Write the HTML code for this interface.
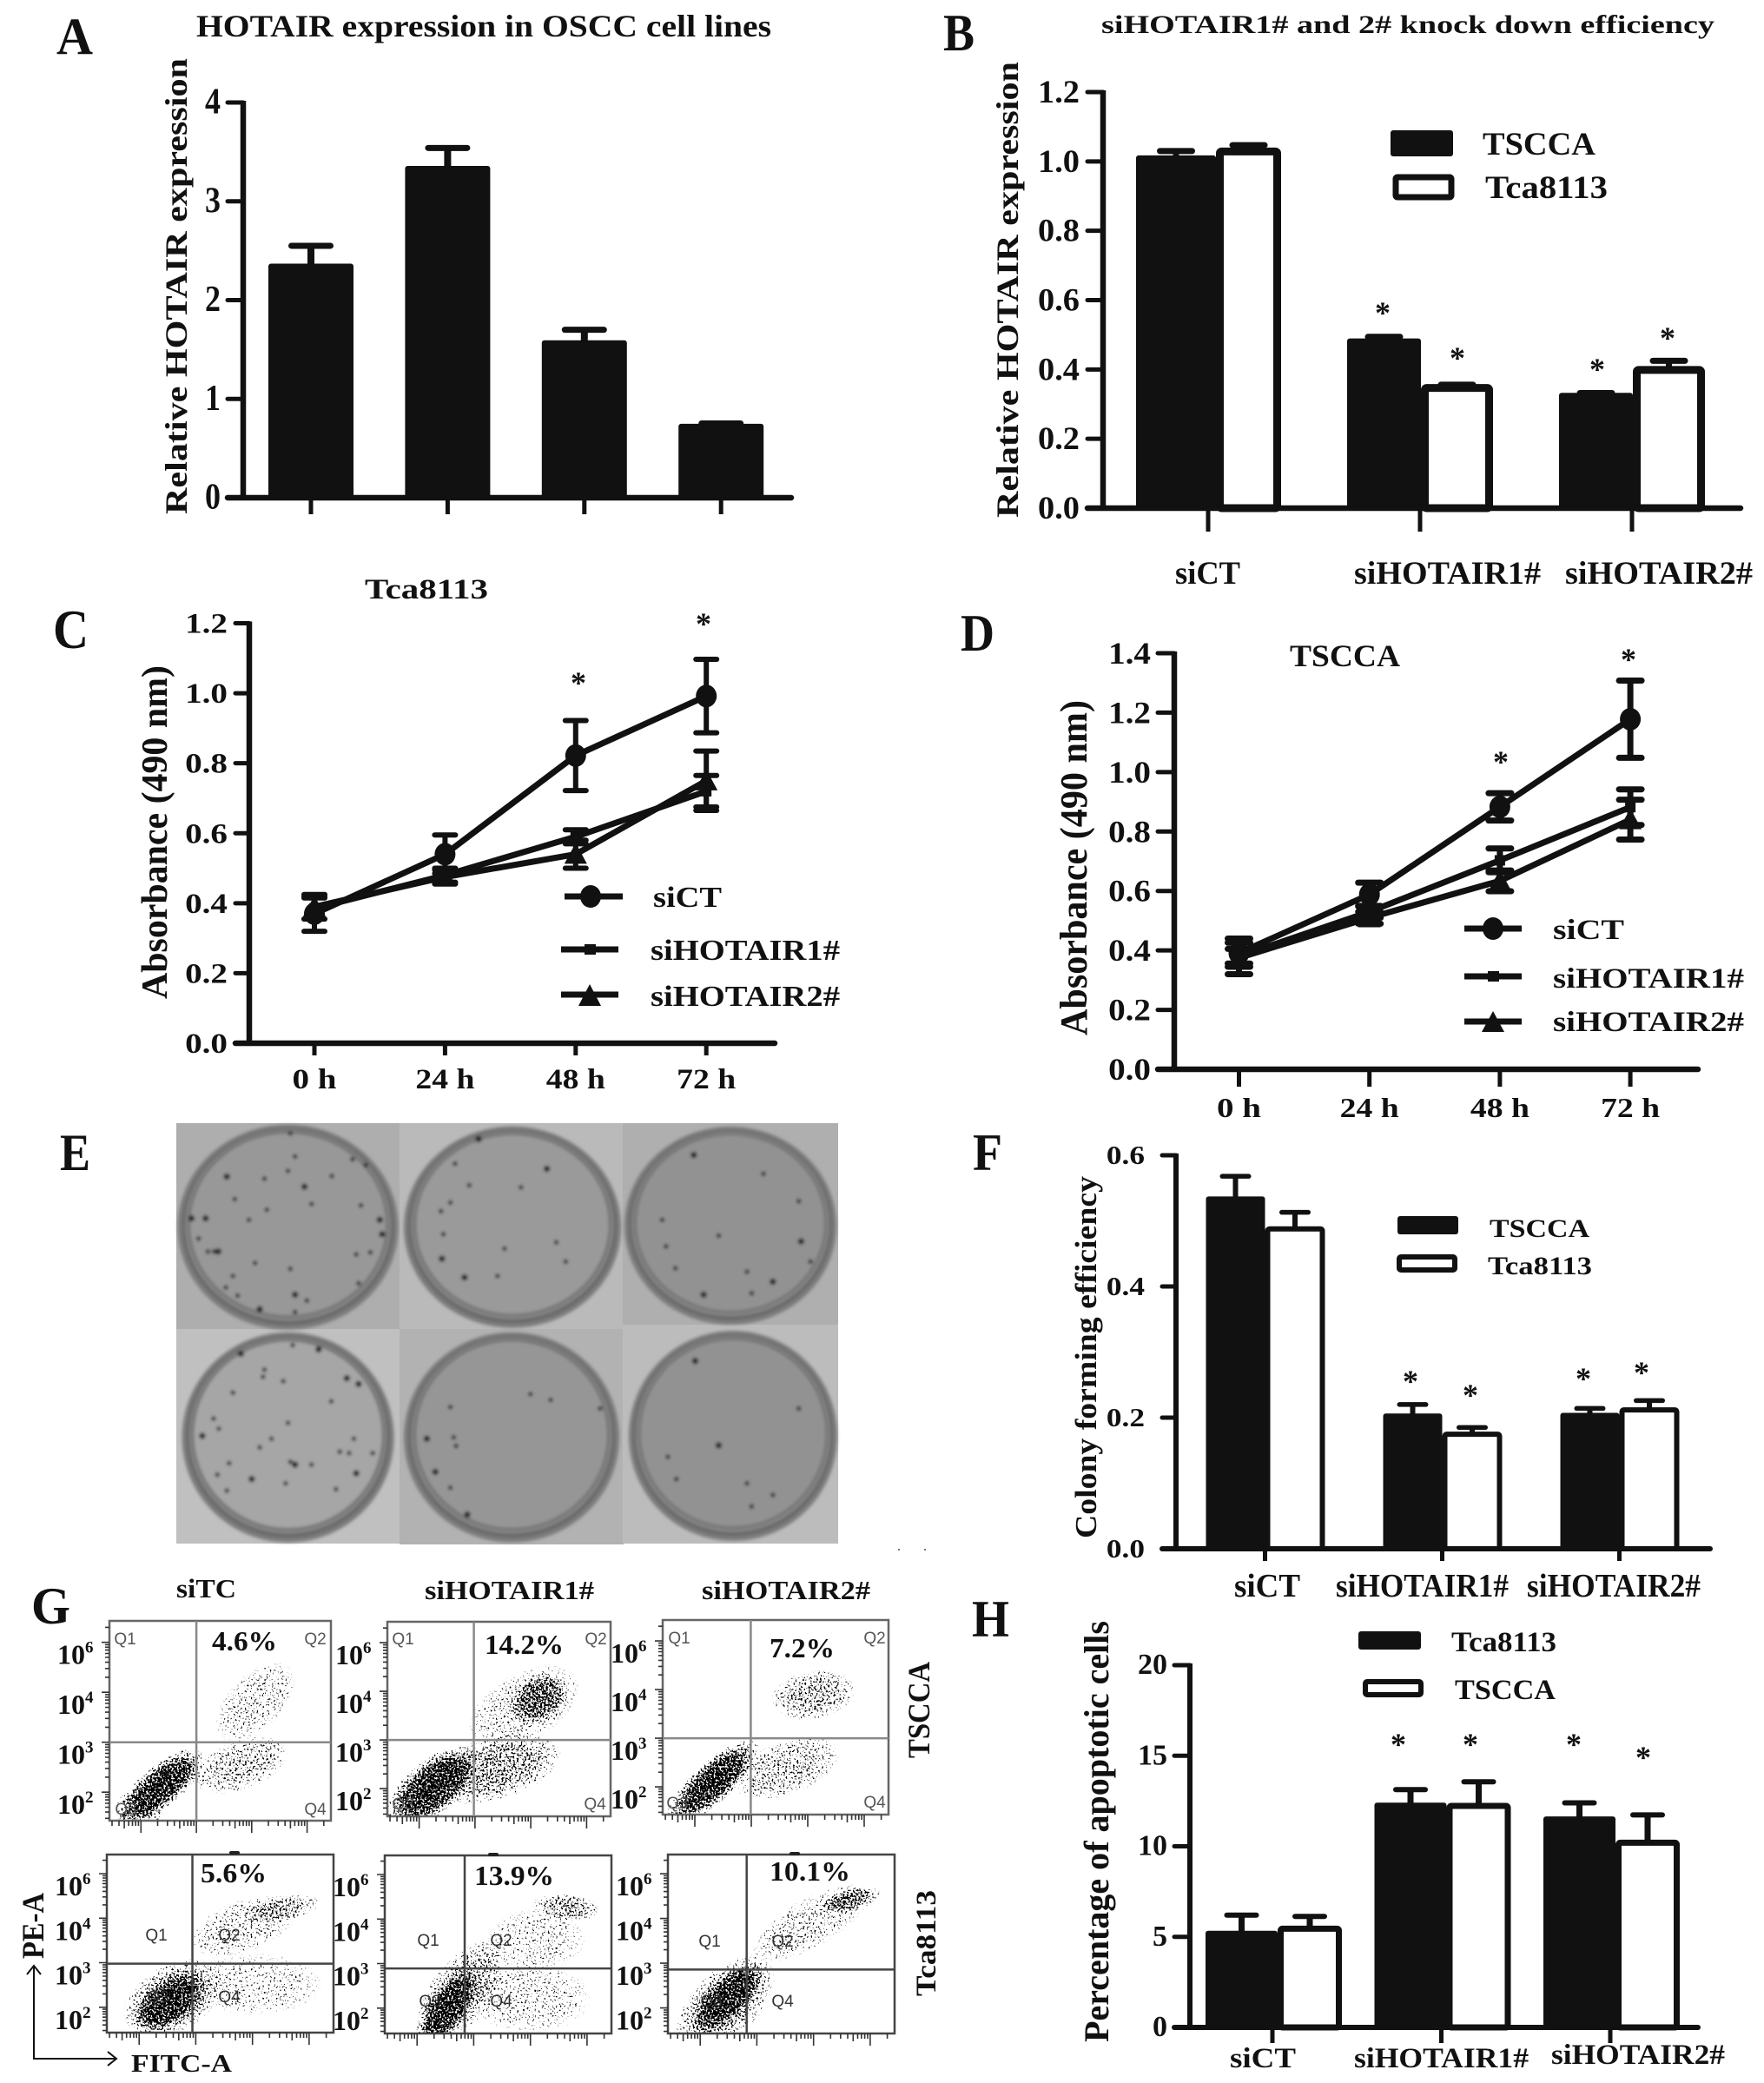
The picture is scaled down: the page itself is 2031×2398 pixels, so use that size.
<!DOCTYPE html>
<html lang="en">
<head>
<meta charset="utf-8">
<title>HOTAIR knockdown figure</title>
<style>
  html, body { margin: 0; padding: 0; background: #fff; }
  svg { display: block; }
  text { font-family: "Liberation Serif", serif; font-weight: bold; fill: #111; }
  .q { font-family: "Liberation Sans", sans-serif; font-weight: normal; font-size: 19px; fill: #555; text-anchor: middle; }
  .qd { fill: #333; }
  .st { font-size: 36px; text-anchor: middle; }
</style>
</head>
<body>
<svg id="figure" width="2031" height="2398" viewBox="0 0 2031 2398">
  <defs>
    <radialGradient id="blobGrad">
      <stop offset="0" stop-color="#000" stop-opacity="1"/>
      <stop offset="0.6" stop-color="#000" stop-opacity="0.85"/>
      <stop offset="1" stop-color="#000" stop-opacity="0"/>
    </radialGradient>
    <filter id="stipple" filterUnits="userSpaceOnUse" x="100" y="1850" width="950" height="500" color-interpolation-filters="sRGB">
      <feTurbulence type="fractalNoise" baseFrequency="0.45" numOctaves="2" seed="3" result="n"/>
      <feColorMatrix in="n" type="matrix" values="0 0 0 0 0  0 0 0 0 0  0 0 0 0 0  3 0 0 0 -1.12" result="na"/>
      <feComposite in="SourceAlpha" in2="na" operator="arithmetic" k1="0" k2="1" k3="1" k4="-1" result="c"/>
      <feComponentTransfer in="c"><feFuncA type="linear" slope="12" intercept="0"/></feComponentTransfer>
    </filter>
    <filter id="soft" x="-5%" y="-5%" width="110%" height="110%"><feGaussianBlur stdDeviation="1.8"/></filter>
  </defs>

  <!-- Panel letters -->
  <text x="65" y="62" font-size="60" textLength="42" lengthAdjust="spacingAndGlyphs">A</text>
  <text x="1086" y="58" font-size="60" textLength="36" lengthAdjust="spacingAndGlyphs">B</text>
  <text x="61" y="746" font-size="64" textLength="41" lengthAdjust="spacingAndGlyphs">C</text>
  <text x="1106" y="749" font-size="60" textLength="39" lengthAdjust="spacingAndGlyphs">D</text>
  <text x="69" y="1347" font-size="60" textLength="35" lengthAdjust="spacingAndGlyphs">E</text>
  <text x="1120" y="1347" font-size="60" textLength="34" lengthAdjust="spacingAndGlyphs">F</text>
  <text x="36" y="1869" font-size="60" textLength="45" lengthAdjust="spacingAndGlyphs">G</text>
  <text x="1119" y="1884" font-size="60" textLength="43" lengthAdjust="spacingAndGlyphs">H</text>

  <!-- Panel A static text -->
  <text x="226" y="42" font-size="36" textLength="662" lengthAdjust="spacingAndGlyphs">HOTAIR expression in OSCC cell lines</text>
  <text transform="translate(215,592) rotate(-90)" font-size="36" textLength="525" lengthAdjust="spacingAndGlyphs">Relative HOTAIR expression</text>

  <!-- Panel B static text -->
  <text x="1268" y="38" font-size="30" textLength="706" lengthAdjust="spacingAndGlyphs">siHOTAIR1# and 2# knock down efficiency</text>
  <text transform="translate(1172,596) rotate(-90)" font-size="36" textLength="525" lengthAdjust="spacingAndGlyphs">Relative HOTAIR expression</text>
  <text x="1353" y="672" font-size="37" textLength="75" lengthAdjust="spacingAndGlyphs">siCT</text>
  <text x="1559" y="672" font-size="37" textLength="215" lengthAdjust="spacingAndGlyphs">siHOTAIR1#</text>
  <text x="1802" y="672" font-size="37" textLength="216" lengthAdjust="spacingAndGlyphs">siHOTAIR2#</text>
  <g>
    <rect x="1601" y="150" width="72" height="30" rx="3" fill="#111"/>
    <rect x="1607" y="204" width="64" height="23" rx="2" fill="#fff" stroke="#111" stroke-width="7"/>
    <text x="1707" y="178" font-size="37" textLength="130" lengthAdjust="spacingAndGlyphs">TSCCA</text>
    <text x="1710" y="228" font-size="37" textLength="141" lengthAdjust="spacingAndGlyphs">Tca8113</text>
  </g>
  <g>
    <text class="st" x="1592" y="372">*</text>
    <text class="st" x="1678" y="424">*</text>
    <text class="st" x="1839" y="437">*</text>
    <text class="st" x="1920" y="401">*</text>
  </g>

  <!-- Panel C static text -->
  <text x="420" y="689" font-size="33" textLength="142" lengthAdjust="spacingAndGlyphs">Tca8113</text>
  <text transform="translate(192,1150) rotate(-90)" font-size="42" textLength="384" lengthAdjust="spacingAndGlyphs">Absorbance (490 nm)</text>
  <g>
    <line x1="650" y1="1032" x2="717" y2="1032" stroke="#111" stroke-width="7"/>
    <ellipse cx="680" cy="1032" rx="12" ry="13" fill="#111"/>
    <text x="752" y="1044" font-size="34" textLength="79" lengthAdjust="spacingAndGlyphs">siCT</text>
    <line x1="646" y1="1093" x2="712" y2="1093" stroke="#111" stroke-width="7"/>
    <rect x="673" y="1087" width="13" height="12" fill="#111"/>
    <text x="749" y="1105" font-size="34" textLength="218" lengthAdjust="spacingAndGlyphs">siHOTAIR1#</text>
    <line x1="646" y1="1145" x2="712" y2="1145" stroke="#111" stroke-width="7"/>
    <polygon points="679,1133 692,1158 666,1158" fill="#111"/>
    <text x="749" y="1158" font-size="34" textLength="218" lengthAdjust="spacingAndGlyphs">siHOTAIR2#</text>
  </g>
  <g>
    <text class="st" x="666" y="798">*</text>
    <text class="st" x="810" y="730">*</text>
  </g>

  <!-- Panel D static text -->
  <text x="1485" y="767" font-size="36" textLength="127" lengthAdjust="spacingAndGlyphs">TSCCA</text>
  <text transform="translate(1251,1192) rotate(-90)" font-size="44" textLength="386" lengthAdjust="spacingAndGlyphs">Absorbance (490 nm)</text>
  <g>
    <line x1="1686" y1="1069" x2="1752" y2="1069" stroke="#111" stroke-width="7"/>
    <ellipse cx="1719" cy="1069" rx="12" ry="13" fill="#111"/>
    <text x="1788" y="1081" font-size="33" textLength="82" lengthAdjust="spacingAndGlyphs">siCT</text>
    <line x1="1686" y1="1124" x2="1752" y2="1124" stroke="#111" stroke-width="7"/>
    <rect x="1713" y="1118" width="13" height="12" fill="#111"/>
    <text x="1788" y="1137" font-size="33" textLength="220" lengthAdjust="spacingAndGlyphs">siHOTAIR1#</text>
    <line x1="1686" y1="1176" x2="1752" y2="1176" stroke="#111" stroke-width="7"/>
    <polygon points="1719,1164 1732,1188 1706,1188" fill="#111"/>
    <text x="1788" y="1187" font-size="33" textLength="220" lengthAdjust="spacingAndGlyphs">siHOTAIR2#</text>
  </g>
  <g>
    <text class="st" x="1728" y="889">*</text>
    <text class="st" x="1875" y="771">*</text>
  </g>

  <!-- Panel E photo tiles -->
  <g id="panelE"></g>

  <!-- Panel F static text -->
  <text transform="translate(1262,1771) rotate(-90)" font-size="35" textLength="417" lengthAdjust="spacingAndGlyphs">Colony forming efficiency</text>
  <text x="1421" y="1838" font-size="38" textLength="76" lengthAdjust="spacingAndGlyphs">siCT</text>
  <text x="1538" y="1838" font-size="38" textLength="199" lengthAdjust="spacingAndGlyphs">siHOTAIR1#</text>
  <text x="1758" y="1838" font-size="38" textLength="200" lengthAdjust="spacingAndGlyphs">siHOTAIR2#</text>
  <g>
    <rect x="1609" y="1400" width="70" height="21" rx="3" fill="#111"/>
    <rect x="1611" y="1447" width="64" height="15" rx="2" fill="#fff" stroke="#111" stroke-width="6"/>
    <text x="1715" y="1424" font-size="30" textLength="115" lengthAdjust="spacingAndGlyphs">TSCCA</text>
    <text x="1713" y="1467" font-size="30" textLength="120" lengthAdjust="spacingAndGlyphs">Tca8113</text>
  </g>
  <g>
    <text class="st" x="1624" y="1602">*</text>
    <text class="st" x="1693" y="1618">*</text>
    <text class="st" x="1823" y="1599">*</text>
    <text class="st" x="1890" y="1592">*</text>
  </g>
  <rect x="1034" y="1783" width="2" height="2" fill="#777"/>
  <rect x="1064" y="1783" width="2" height="2" fill="#777"/>

  <!-- Panel G static text -->
  <text x="203" y="1839" font-size="31" textLength="69" lengthAdjust="spacingAndGlyphs">siTC</text>
  <text x="489" y="1841" font-size="31" textLength="195" lengthAdjust="spacingAndGlyphs">siHOTAIR1#</text>
  <text x="808" y="1841" font-size="31" textLength="194" lengthAdjust="spacingAndGlyphs">siHOTAIR2#</text>
  <text transform="translate(1070,2024) rotate(-90)" font-size="36" textLength="111" lengthAdjust="spacingAndGlyphs">TSCCA</text>
  <text transform="translate(1077,2298) rotate(-90)" font-size="33" textLength="122" lengthAdjust="spacingAndGlyphs">Tca8113</text>
  <text transform="translate(50,2255) rotate(-90)" font-size="36" textLength="76" lengthAdjust="spacingAndGlyphs">PE-A</text>
  <text x="151" y="2385" font-size="28" textLength="116" lengthAdjust="spacingAndGlyphs">FITC-A</text>
  <g fill="none" stroke="#111" stroke-width="2">
    <path d="M39 2264V2370H133"/>
    <path d="M31 2273L39 2263L47 2273"/>
    <path d="M124 2362L134 2370L124 2378"/>
  </g>
  <g id="flowDensity" filter="url(#stipple)"></g>
  <g id="flowFrames"></g>
  <rect x="264" y="2131" width="12" height="4" rx="2" fill="#222"/>
  <rect x="562" y="2133" width="12" height="4" rx="2" fill="#222"/>
  <rect x="909" y="2132" width="12" height="4" rx="2" fill="#222"/>
  <g>
    <text x="244" y="1900" font-size="32" textLength="75" lengthAdjust="spacingAndGlyphs">4.6%</text>
    <text x="558" y="1904" font-size="32" textLength="91" lengthAdjust="spacingAndGlyphs">14.2%</text>
    <text x="886" y="1908" font-size="32" textLength="75" lengthAdjust="spacingAndGlyphs">7.2%</text>
    <text x="231" y="2167" font-size="32" textLength="76" lengthAdjust="spacingAndGlyphs">5.6%</text>
    <text x="546" y="2170" font-size="32" textLength="92" lengthAdjust="spacingAndGlyphs">13.9%</text>
    <text x="886" y="2165" font-size="32" textLength="93" lengthAdjust="spacingAndGlyphs">10.1%</text>
  </g>
  <g>
    <text class="q" x="144" y="1893">Q1</text>
    <text class="q" x="363" y="1893">Q2</text>
    <text class="q" x="145" y="2089">Q3</text>
    <text class="q" x="363" y="2089">Q4</text>
    <text class="q" x="464" y="1893">Q1</text>
    <text class="q" x="686" y="1893">Q2</text>
    <text class="q" x="464" y="2083">Q3</text>
    <text class="q" x="685" y="2083">Q4</text>
    <text class="q" x="782" y="1892">Q1</text>
    <text class="q" x="1007" y="1892">Q2</text>
    <text class="q" x="780" y="2082">Q3</text>
    <text class="q" x="1007" y="2081">Q4</text>
    <text class="q qd" x="180" y="2234">Q1</text>
    <text class="q qd" x="264" y="2234">Q2</text>
    <text class="q qd" x="182" y="2305">Q3</text>
    <text class="q qd" x="264" y="2305">Q4</text>
    <text class="q qd" x="493" y="2240">Q1</text>
    <text class="q qd" x="577" y="2240">Q2</text>
    <text class="q qd" x="495" y="2310">Q3</text>
    <text class="q qd" x="577" y="2310">Q4</text>
    <text class="q qd" x="817" y="2241">Q1</text>
    <text class="q qd" x="901" y="2241">Q2</text>
    <text class="q qd" x="819" y="2310">Q3</text>
    <text class="q qd" x="901" y="2310">Q4</text>
  </g>

  <!-- Panel H static text -->
  <text transform="translate(1276,2351) rotate(-90)" font-size="40" textLength="485" lengthAdjust="spacingAndGlyphs">Percentage of apoptotic cells</text>
  <text x="1416" y="2380" font-size="33" textLength="76" lengthAdjust="spacingAndGlyphs">siCT</text>
  <text x="1559" y="2380" font-size="33" textLength="201" lengthAdjust="spacingAndGlyphs">siHOTAIR1#</text>
  <text x="1786" y="2376" font-size="33" textLength="200" lengthAdjust="spacingAndGlyphs">siHOTAIR2#</text>
  <g>
    <rect x="1564" y="1878" width="72" height="21" rx="3" fill="#111"/>
    <rect x="1572" y="1936" width="64" height="15" rx="2" fill="#fff" stroke="#111" stroke-width="6"/>
    <text x="1671" y="1901" font-size="33" textLength="121" lengthAdjust="spacingAndGlyphs">Tca8113</text>
    <text x="1675" y="1956" font-size="33" textLength="116" lengthAdjust="spacingAndGlyphs">TSCCA</text>
  </g>
  <g>
    <text class="st" x="1610" y="2020">*</text>
    <text class="st" x="1693" y="2020">*</text>
    <text class="st" x="1812" y="2020">*</text>
    <text class="st" x="1892" y="2035">*</text>
  </g>

  <g id="charts"></g>
</svg>

<script>
/* ---------- Panel A ---------- */
const aCategories = ['line 1', 'line 2', 'line 3', 'line 4'];
const aValues = [2.36, 3.35, 1.585, 0.74];
const aErrors = [0.19, 0.19, 0.115, 0.012];
const aTicks = [0, 1, 2, 3, 4];
const aTickLabels = ['0', '1', '2', '3', '4'];

/* ---------- Panel B ---------- */
const bCategories = ['siCT', 'siHOTAIR1#', 'siHOTAIR2#'];
const bTscca = [1.015, 0.487, 0.33];
const bTsccaErr = [0.015, 0.007, 0.002];
const bTca = [1.035, 0.353, 0.405];
const bTcaErr = [0.012, 0.003, 0.02];
const bTicks = [0, 0.2, 0.4, 0.6, 0.8, 1.0, 1.2];
const bTickLabels = ['0.0', '0.2', '0.4', '0.6', '0.8', '1.0', '1.2'];

/* ---------- Panel C ---------- */
const cTimes = ['0 h', '24 h', '48 h', '72 h'];
const cSiCT = [0.37, 0.54, 0.822, 0.992];
const cSiCTErr = [0.05, 0.055, 0.1, 0.105];
const cHot1 = [0.385, 0.48, 0.59, 0.72];
const cHot1Err = [0.03, 0.02, 0.02, 0.045];
const cHot2 = [0.39, 0.475, 0.54, 0.75];
const cHot2Err = [0.035, 0.02, 0.04, 0.085];
const cTicks = [0, 0.2, 0.4, 0.6, 0.8, 1.0, 1.2];
const cTickLabels = ['0.0', '0.2', '0.4', '0.6', '0.8', '1.0', '1.2'];

/* ---------- Panel D ---------- */
const dTimes = ['0 h', '24 h', '48 h', '72 h'];
const dSiCT = [0.391, 0.588, 0.883, 1.178];
const dSiCTErr = [0.035, 0.04, 0.046, 0.13];
const dHot1 = [0.38, 0.53, 0.703, 0.882];
const dHot1Err = [0.06, 0.02, 0.04, 0.06];
const dHot2 = [0.375, 0.51, 0.634, 0.84];
const dHot2Err = [0.03, 0.02, 0.035, 0.067];
const dTicks = [0, 0.2, 0.4, 0.6, 0.8, 1.0, 1.2, 1.4];
const dTickLabels = ['0.0', '0.2', '0.4', '0.6', '0.8', '1.0', '1.2', '1.4'];

/* ---------- Panel F ---------- */
const fCategories = ['siCT', 'siHOTAIR1#', 'siHOTAIR2#'];
const fTscca = [0.536, 0.205, 0.206];
const fTsccaErr = [0.032, 0.015, 0.008];
const fTca = [0.489, 0.176, 0.213];
const fTcaErr = [0.024, 0.009, 0.013];
const fTicks = [0, 0.2, 0.4, 0.6];
const fTickLabels = ['0.0', '0.2', '0.4', '0.6'];

/* ---------- Panel H ---------- */
const hCategories = ['siCT', 'siHOTAIR1#', 'siHOTAIR2#'];
const hTca = [5.29, 12.36, 11.6];
const hTcaErr = [0.91, 0.77, 0.8];
const hTscca = [5.52, 12.3, 10.27];
const hTsccaErr = [0.61, 1.26, 1.46];
const hTicks = [0, 5, 10, 15, 20];
const hTickLabels = ['0', '5', '10', '15', '20'];

/* ---------- Panel G: density clouds [log FITC, log PE, spread x, spread y, tilt, density] ---------- */
const flowDecades = [2, 3, 4, 5];
const flowExponents = ['2', '3', '4', '6'];
const flowGates = [[3.0, 3.0], [2.98, 3.0], [2.99, 3.0], [2.94, 2.98], [2.84, 2.89], [2.82, 2.86]];
const flowClouds1 = [[2.37, 2.13, 0.95, 0.42, -40, 1], [1.98, 1.66, 0.45, 0.4, 0, 0.5], [3.8, 2.54, 0.9, 0.5, -20, 0.34], [4.07, 3.81, 0.9, 0.55, -45, 0.2]];
const flowClouds2 = [[2.24, 2.03, 1.0, 0.55, -40, 1], [3.33, 2.41, 1.25, 0.65, -15, 0.5], [4.15, 3.85, 0.6, 0.5, -30, 0.7], [3.88, 3.68, 1.1, 0.7, -30, 0.22]];
const flowClouds3 = [[2.32, 2.1, 1.05, 0.42, -42, 1], [3.61, 2.38, 1.0, 0.55, -20, 0.34], [4.1, 3.89, 0.75, 0.5, -10, 0.42]];
const flowClouds4 = [[2.53, 2.11, 0.75, 0.5, -35, 1], [2.6, 2.2, 0.95, 0.75, -30, 0.55], [4.48, 4.2, 0.75, 0.28, -10, 0.42], [3.84, 3.82, 1.0, 0.6, -20, 0.2], [4.05, 2.52, 1.2, 0.7, 0, 0.16]];
const flowClouds5 = [[2.54, 2.0, 0.85, 0.45, -55, 1], [2.81, 2.39, 1.1, 0.7, -50, 0.45], [4.63, 4.26, 0.6, 0.3, 5, 0.48], [3.99, 2.23, 1.1, 0.8, 0, 0.16], [4.1, 3.54, 0.9, 0.7, 0, 0.14]];
const flowClouds6 = [[2.49, 2.23, 0.85, 0.45, -45, 1], [2.44, 2.08, 1.1, 0.75, -45, 0.5], [4.64, 4.41, 0.55, 0.25, -15, 0.65], [3.95, 3.9, 1.2, 0.55, -30, 0.22]];

/* ---------- Panel E: visible colonies in each photographed dish ---------- */
const colonies1 = [[205,255],[222,333],[335,235],[428,253],[370,290],[350,185],[472,195],[500,215],[160,400],[252,405],[290,370],[385,350],[530,405],[490,355],[178,515],[165,515],[187,515],[218,600],[203,640],[228,668],[350,665],[375,685],[480,525],[510,518],[535,455],[340,575],[265,555],[485,625],[275,715],[350,725],[340,105],[285,262],[130,400],[145,470]];
const colonies2 = [[740,125],[680,345],[660,375],[665,455],[662,540],[795,505],[925,550],[830,292],[885,228],[720,285],[690,210],[905,483],[710,605],[780,600]];
const colonies3 = [[1197,180],[1138,497],[1158,573],[1320,660],[1218,665],[1250,460],[1420,340],[1310,585],[1365,620],[1130,405],[1345,245],[1445,550],[1425,480]];
const colonies4 = [[400,855],[285,925],[325,965],[218,1005],[485,975],[427,1035],[177,1095],[188,1130],[153,1155],[275,1195],[300,1165],[340,1245],[350,1255],[465,1215],[445,1210],[515,1215],[480,1285],[437,1340],[205,1345],[330,1320],[258,1305],[385,1255],[335,1110],[475,1165],[235,870],[345,840],[210,1250],[185,1290],[460,955],[282,950]];
const colonies5 = [[630,1165],[687,1160],[692,1190],[680,1335],[716,1428],[998,1060],[680,1055],[893,1030],[648,1280],[850,1010]];
const colonies6 = [[1200,895],[1142,1228],[1160,1305],[1320,1400],[1250,1188],[1420,1060],[1310,1320],[1365,1360]];

const root = document.getElementById('figure');
const NS = root.namespaceURI;
const charts = document.getElementById('charts');
const INK = '#111';

function mk(tag, parent, attrs) {
  const el = document.createElementNS(NS, tag);
  for (const k in attrs) el.setAttribute(k, attrs[k]);
  parent.appendChild(el);
  return el;
}
function linear(d0, d1, r0, r1) {
  return v => r0 + (v - d0) * (r1 - r0) / (d1 - d0);
}
function label(parent, str, x0, x1, base, size) {
  const el = mk('text', parent, { x: x0, y: base, 'font-size': size, textLength: x1 - x0, lengthAdjust: 'spacingAndGlyphs' });
  el.textContent = str;
  return el;
}

function drawAxes(g, o) {
  const y0 = o.y(0);
  const top = o.y(o.ticks[o.ticks.length - 1]);
  const vAxis = mk('line', g, { x1: o.ax, y1: top - 2, x2: o.ax, y2: y0, stroke: INK, 'stroke-width': o.sw });
  
  
  const hAxis = mk('line', g, { x1: o.tickFrom, y1: y0, x2: o.right, y2: y0, stroke: INK, 'stroke-width': o.sw, 'stroke-linecap': 'round' });
  
  
  o.ticks.forEach((v, i) => {
    const tick = mk('line', g, { x1: o.tickFrom, y1: o.y(v), x2: o.ax, y2: o.y(v), stroke: INK, 'stroke-width': o.tickW, 'stroke-linecap': 'round' });
    
    
    const str = o.tickLabels[i];
    const lab = label(g, str, o.labelRight - str.length * o.charW, o.labelRight, o.y(v) + o.labelDy, o.labelSize);
    
    
  });
  for (let i = 0; i < o.groups; i++) {
    const tick = mk('line', g, { x1: o.xTick(i), y1: y0, x2: o.xTick(i), y2: o.tickBottom, stroke: INK, 'stroke-width': o.tickW });
    
    
  }
}

function drawErr(g, cx, yTop, yBase, capW, capH, stemW) {
  const stem = mk('line', g, { x1: cx, y1: yTop, x2: cx, y2: yBase, stroke: INK, 'stroke-width': stemW });
  
  
  const cap = mk('line', g, { x1: cx - capW / 2 + capH / 2, y1: yTop, x2: cx + capW / 2 - capH / 2, y2: yTop, stroke: INK, 'stroke-width': capH, 'stroke-linecap': 'round' });
  
  
}

function drawBars(g, o) {
  o.series.forEach((s, si) => {
    s.values.forEach((v, i) => {
      const box = o.layout(i, si);
      const top = o.y(v);
      const bottom = o.y(0);
      drawErr(g, box[0] + box[1] / 2, o.y(v + s.errors[i]), top, o.capW, o.capH, o.stemW);
      let bar;
      if (s.hollow) {
        const w = o.outline;
        bar = mk('rect', g, { x: box[0] + w / 2, y: top + w / 2 - 2, width: box[1] - w, height: bottom - top - w / 2 + 2, rx: 2, fill: '#fff', stroke: INK, 'stroke-width': w });
      } else {
        bar = mk('rect', g, { x: box[0], y: top - 1, width: box[1], height: bottom - top + 1, rx: 3, fill: INK });
      }
      
      
    });
  });
}

/* Panel A */
(function () {
  const g = mk('g', charts, {});
  
  
  const y = linear(0, 4, 573, 118);
  const xc = i => 358 + 157.4 * i;
  drawBars(g, {
    y, categories: aCategories, capW: 52, capH: 7, stemW: 8, outline: 0,
    layout: i => [xc(i) - 49, 98],
    series: [{ name: 'hotair', values: aValues, errors: aErrors }]
  });
  drawAxes(g, { y, ax: 280, right: 911, tickFrom: 262, sw: 6.5, tickW: 5, ticks: aTicks, tickLabels: aTickLabels, labelRight: 254, charW: 18, labelDy: 12.5, labelSize: 42, groups: aCategories.length, xTick: xc, tickBottom: 592 });
})();

/* Panel B */
(function () {
  const g = mk('g', charts, {});
  
  
  const y = linear(0, 1.2, 585, 106);
  const xc = i => 1391 + 244 * i;
  const edge = i => xc(i) + (i === 0 ? 9 : 1);
  drawBars(g, {
    y, categories: bCategories, capW: 44, capH: 7, stemW: 7, outline: 9,
    layout: (i, s) => s === 0 ? [edge(i) - (i === 0 ? 92 : 85), i === 0 ? 92 : 85] : [edge(i), i === 0 ? 75 : 83],
    series: [
      { name: 'tscca', values: bTscca, errors: bTsccaErr },
      { name: 'tca8113', hollow: true, values: bTca, errors: bTcaErr }
    ]
  });
  drawAxes(g, { y, ax: 1270, right: 2004, tickFrom: 1252, sw: 6.5, tickW: 5, ticks: bTicks, tickLabels: bTickLabels, labelRight: 1243, charW: 16, labelDy: 12, labelSize: 37, groups: bCategories.length, xTick: xc, tickBottom: 612 });
})();

function drawMarker(g, kind, cx, cy) {
  let m;
  if (kind === 'circle') {
    m = mk('ellipse', g, { cx, cy, rx: 12, ry: 13, fill: INK });
  } else if (kind === 'square') {
    m = mk('rect', g, { x: cx - 6, y: cy - 6, width: 12, height: 12, fill: INK });
  } else {
    m = mk('polygon', g, { points: (cx) + ',' + (cy - 13) + ' ' + (cx + 13) + ',' + (cy + 11) + ' ' + (cx - 13) + ',' + (cy + 11), fill: INK });
  }
  
  
}

function drawLines(g, o) {
  o.series.forEach(s => {
    const pts = s.values.map((v, i) => o.x(i) + ',' + o.y(v)).join(' ');
    const line = mk('polyline', g, { points: pts, fill: 'none', stroke: INK, 'stroke-width': 7, 'stroke-linejoin': 'round' });
    
    
    s.values.forEach((v, i) => {
      const cx = o.x(i);
      const stem = mk('line', g, { x1: cx, y1: o.y(v + s.errors[i]), x2: cx, y2: o.y(v - s.errors[i]), stroke: INK, 'stroke-width': o.stemW });
      
      
      [1, -1].forEach(sign => {
        const cy = o.y(v + sign * s.errors[i]);
        const cap = mk('line', g, { x1: cx - o.capW / 2 + 3, y1: cy, x2: cx + o.capW / 2 - 3, y2: cy, stroke: INK, 'stroke-width': o.capH, 'stroke-linecap': 'round' });
        
        
      });
      drawMarker(g, s.marker, cx, o.y(v));
    });
  });
}

/* Panel C */
(function () {
  const g = mk('g', charts, {});
  
  
  const y = linear(0, 1.2, 1201, 717.5);
  const x = i => 362 + 150.4 * i;
  drawLines(g, {
    x, y, stemW: 6, capW: 30, capH: 6,
    series: [
      { name: 'sict', marker: 'circle', values: cSiCT, errors: cSiCTErr },
      { name: 'sihotair1', marker: 'square', values: cHot1, errors: cHot1Err },
      { name: 'sihotair2', marker: 'triangle', values: cHot2, errors: cHot2Err }
    ]
  });
  drawAxes(g, { y, ax: 287, right: 892, tickFrom: 271, sw: 6.5, tickW: 5, ticks: cTicks, tickLabels: cTickLabels, labelRight: 262, charW: 16.3, labelDy: 11, labelSize: 33, groups: cTimes.length, xTick: x, tickBottom: 1215 });
  cTimes.forEach((t, i) => {
    const half = t.length * 8.5;
    const lab = label(g, t, x(i) - half, x(i) + half, 1253, 33);
    
    
  });
})();

/* Panel D */
(function () {
  const g = mk('g', charts, {});
  
  
  const y = linear(0, 1.4, 1231, 752);
  const x = i => 1426.5 + 150.2 * i;
  drawLines(g, {
    x, y, stemW: 7, capW: 32, capH: 7,
    series: [
      { name: 'sict', marker: 'circle', values: dSiCT, errors: dSiCTErr },
      { name: 'sihotair1', marker: 'square', values: dHot1, errors: dHot1Err },
      { name: 'sihotair2', marker: 'triangle', values: dHot2, errors: dHot2Err }
    ]
  });
  drawAxes(g, { y, ax: 1352, right: 1955, tickFrom: 1333, sw: 6.5, tickW: 5, ticks: dTicks, tickLabels: dTickLabels, labelRight: 1325, charW: 16.3, labelDy: 12, labelSize: 36, groups: dTimes.length, xTick: x, tickBottom: 1251 });
  dTimes.forEach((t, i) => {
    const half = t.length * 8.5;
    const lab = label(g, t, x(i) - half, x(i) + half, 1286, 32);
    
    
  });
})();

/* Panel F */
(function () {
  const g = mk('g', charts, {});
  
  
  const y = linear(0, 0.6, 1783, 1330);
  const xc = i => 1456.5 + 204 * i;
  drawBars(g, {
    y, categories: fCategories, capW: 36, capH: 5.5, stemW: 6, outline: 6,
    layout: (i, s) => s === 0 ? [xc(i) - 68, 68] : [xc(i), 69],
    series: [
      { name: 'tscca', values: fTscca, errors: fTsccaErr },
      { name: 'tca8113', hollow: true, values: fTca, errors: fTcaErr }
    ]
  });
  drawAxes(g, { y, ax: 1354, right: 1969, tickFrom: 1338, sw: 6, tickW: 5, ticks: fTicks, tickLabels: fTickLabels, labelRight: 1318, charW: 14.7, labelDy: 10, labelSize: 31, groups: fCategories.length, xTick: xc, tickBottom: 1797 });
})();

/* Panel H */
(function () {
  const g = mk('g', charts, {});
  
  
  const y = linear(0, 20, 2334, 1917);
  const xc = i => 1465 + 194.5 * i;
  drawBars(g, {
    y, categories: hCategories, capW: 40, capH: 6, stemW: 7, outline: 7,
    layout: (i, s) => s === 0 ? [xc(i) + 6 - 83, 83] : [xc(i) + 6, 74],
    series: [
      { name: 'tca8113', values: hTca, errors: hTcaErr },
      { name: 'tscca', hollow: true, values: hTscca, errors: hTsccaErr }
    ]
  });
  drawAxes(g, { y, ax: 1370, right: 1955, tickFrom: 1352, sw: 6, tickW: 5, ticks: hTicks, tickLabels: hTickLabels, labelRight: 1344, charW: 17, labelDy: 10, labelSize: 34, groups: hCategories.length, xTick: xc, tickBottom: 2352 });
})();

/* Panel G: flow cytometry plots */
(function () {
  const density = document.getElementById('flowDensity');
  const frames = document.getElementById('flowFrames');
  const defs = root.querySelector('defs');
  const LOG_MIN = 1.43, LOG_SPAN = 4.0;
  const plots = [
    { box: [126, 1866, 255, 230], clouds: flowClouds1, gate: flowGates[0], ink: '#666', gateInk: '#888' },
    { box: [446, 1867, 257, 224], clouds: flowClouds2, gate: flowGates[1], ink: '#666', gateInk: '#888' },
    { box: [763, 1865, 260, 224], clouds: flowClouds3, gate: flowGates[2], ink: '#666', gateInk: '#888' },
    { box: [123, 2135, 261, 205], clouds: flowClouds4, gate: flowGates[3], ink: '#444', gateInk: '#444' },
    { box: [443, 2136, 261, 205], clouds: flowClouds5, gate: flowGates[4], ink: '#444', gateInk: '#444' },
    { box: [769, 2135, 261, 206], clouds: flowClouds6, gate: flowGates[5], ink: '#444', gateInk: '#444' }
  ];
  plots.forEach((p, idx) => {
    const [L, T, W, H] = p.box;
    const x = linear(LOG_MIN, LOG_MIN + LOG_SPAN, L, L + W);
    const y = linear(LOG_MIN, LOG_MIN + LOG_SPAN, T + H, T);
    const clip = mk('clipPath', defs, { id: 'flowClip' + idx });
    mk('rect', clip, { x: L, y: T, width: W, height: H });
    const cg = mk('g', density, { 'clip-path': 'url(#flowClip' + idx + ')' });
    
    
    p.clouds.forEach(c => {
      const cx = x(c[0]), cy = y(c[1]);
      const e = mk('ellipse', cg, {
        cx, cy,
        rx: c[2] * W / LOG_SPAN, ry: c[3] * H / LOG_SPAN,
        fill: 'url(#blobGrad)', 'fill-opacity': c[5],
        transform: 'rotate(' + c[4] + ' ' + cx + ' ' + cy + ')'
      });
      
      
    });

    const g = mk('g', frames, {});
    
    
    const frame = mk('rect', g, { x: L, y: T, width: W, height: H, fill: 'none', stroke: p.ink, 'stroke-width': 2.5 });
    
    
    const gv = mk('line', g, { x1: x(p.gate[0]), y1: T, x2: x(p.gate[0]), y2: T + H, stroke: p.gateInk, 'stroke-width': 2.5 });
    
    
    const gh = mk('line', g, { x1: L, y1: y(p.gate[1]), x2: L + W, y2: y(p.gate[1]), stroke: p.gateInk, 'stroke-width': 2.5 });
    
    

    let dPath = '';
    for (let d = 1; d <= 5; d++) {
      for (let m = 1; m <= 9; m++) {
        const v = d + Math.log10(m);
        if (v < LOG_MIN || v > LOG_MIN + LOG_SPAN) continue;
        const lenMajor = m === 1 ? 14 : (m === 5 ? 9 : 6);
        dPath += 'M' + x(v).toFixed(1) + ' ' + (T + H) + 'v' + lenMajor;
        dPath += 'M' + L + ' ' + y(v).toFixed(1) + 'h-' + (m === 1 ? 9 : 5);
      }
    }
    const ticks = mk('path', g, { d: dPath, fill: 'none', stroke: '#333', 'stroke-width': 1.6 });
    
    

    flowDecades.forEach((d, i) => {
      const t = mk('text', g, { x: L - 60, y: y(d) + 25, 'font-size': 32 });
      t.textContent = '10';
      
      
      const sup = mk('tspan', t, { dy: -13, 'font-size': 19 });
      sup.textContent = flowExponents[i];
    });
  });
})();

/* Panel E: photographed dishes */
(function () {
  const e = document.getElementById('panelE');
  const px = (zx, zy) => [150 + zx * 0.542, 1270 + zy * 0.3316];
  const tiles = [
    [203, 1293, 257, 237, '#aeaeae'], [460, 1293, 258, 237, '#bababa'], [717, 1293, 248, 232, '#afafaf'],
    [203, 1530, 257, 247, '#c0c0c0'], [460, 1530, 258, 248, '#b2b2b2'], [717, 1525, 248, 252, '#bcbcbc']
  ];
  tiles.forEach(t => {
    const r = mk('rect', e, { x: t[0], y: t[1], width: t[2], height: t[3], fill: t[4] });
    
    
  });
  const dishes = [
    { c: [331.6, 1412.6], r: [127, 118], inner: '#989898', dots: colonies1 },
    { c: [590, 1412.6], r: [125, 116], inner: '#9a9a9a', dots: colonies2 },
    { c: [841, 1411], r: [122, 114], inner: '#929292', dots: colonies3 },
    { c: [331.6, 1654.7], r: [122, 121], inner: '#a6a6a6', dots: colonies4 },
    { c: [589, 1654.7], r: [124, 121], inner: '#969696', dots: colonies5 },
    { c: [844, 1653], r: [120, 121], inner: '#929292', dots: colonies6 }
  ];
  dishes.forEach((d, idx) => {
    const g = mk('g', e, { filter: 'url(#soft)' });
    
    
    [[1, '#7c7c7c', 0], [0.96, '#666', -1], [0.935, '#848484', -2], [0.905, '#6a6a6a', -3], [0.888, d.inner, -3]].forEach(layer => {
      const rim = mk('ellipse', g, { cx: d.c[0], cy: d.c[1] + layer[2], rx: d.r[0] * layer[0], ry: d.r[1] * layer[0], fill: layer[1] });
      
      
    });
    d.dots.forEach((z, i) => {
      const p = px(z[0], z[1]);
      const dot = mk('circle', g, { cx: p[0], cy: p[1], r: i % 4 === 0 ? 3.6 : 2.6, fill: '#1c1c1c' });
      
      
    });
  });
})();
</script>
</body>
</html>
